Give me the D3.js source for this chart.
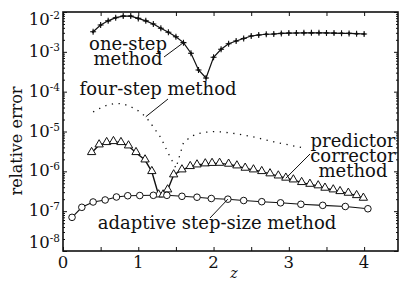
<!DOCTYPE html>
<html>
<head>
<meta charset="utf-8">
<script src="https://cdn.jsdelivr.net/npm/d3@7"></script>
<style>
  body { margin: 0; background: #fff; }
  svg { display: block; }
  text { font-family: "DejaVu Serif", serif; fill: #111; }
</style>
</head>
<body>
<svg id="chart" width="401" height="282"></svg>
<script>
// one-step method (plus markers)
var oneStepZ = [0.4,0.5,0.6,0.7,0.8,0.9,1.0,1.1,1.2,1.3,1.4,1.5,1.6,1.7,1.8,1.9,2.0,2.1,2.2,2.3,2.4,2.5,2.6,2.7,2.8,2.9,3.0,3.1,3.2,3.3,3.4,3.5,3.6,3.7,3.8,3.9,4.0];
var oneStepErr = [3.2e-3,4.7e-3,6.0e-3,7.2e-3,7.9e-3,7.9e-3,6.9e-3,6.0e-3,5.0e-3,3.9e-3,3.1e-3,2.4e-3,1.7e-3,9.2e-4,3.5e-4,2.2e-4,7.3e-4,1.16e-3,1.6e-3,1.87e-3,2.16e-3,2.5e-3,2.65e-3,2.76e-3,2.8e-3,2.9e-3,2.95e-3,2.97e-3,3.0e-3,3.0e-3,3.0e-3,2.98e-3,2.95e-3,2.92e-3,2.9e-3,2.85e-3,2.8e-3];

// four-step method (dotted, no markers)
var fourStepZ = [0.4,0.5,0.6,0.7,0.8,0.9,1.0,1.1,1.2,1.3,1.4,1.5,1.6,1.7,1.8,1.9,2.0,2.1,2.2,2.3,2.4,2.5,2.6,2.7,2.8,2.9,3.0,3.1,3.2];
var fourStepErr = [3.1e-5,3.9e-5,4.7e-5,5.1e-5,4.9e-5,4.2e-5,3.3e-5,2.35e-5,1.3e-5,7e-6,2.8e-6,1.2e-6,5.2e-6,7.5e-6,8.9e-6,9.6e-6,9.9e-6,9.8e-6,9.3e-6,8.8e-6,8.1e-6,7.5e-6,6.8e-6,6.1e-6,5.5e-6,5.0e-6,4.6e-6,4.2e-6,3.9e-6];

// predictor-corrector method (triangles)
var pcZ = [0.38,0.48,0.58,0.67,0.77,0.87,0.97,1.09,1.18,1.27,1.33,1.39,1.47,1.58,1.69,1.78,1.89,1.98,2.08,2.20,2.31,2.42,2.53,2.64,2.75,2.86,2.96,3.06,3.17,3.28,3.39,3.48,3.59,3.68,3.79,3.90,3.99];
var pcErr = [2.94e-6,4.58e-6,5.24e-6,5.55e-6,5.24e-6,4.32e-6,2.94e-6,1.92e-6,9.8e-7,2.54e-7,2.54e-7,3.4e-7,8.1e-7,1.08e-6,1.31e-6,1.44e-6,1.53e-6,1.57e-6,1.58e-6,1.5e-6,1.36e-6,1.19e-6,1.08e-6,9.8e-7,8.6e-7,7.6e-7,6.7e-7,6.05e-7,5.2e-7,4.7e-7,4.3e-7,3.75e-7,3.4e-7,3.08e-7,2.8e-7,2.44e-7,2.1e-7];

// adaptive step-size method (circles)
var adaptZ = [0.12,0.25,0.40,0.56,0.71,0.86,1.02,1.20,1.38,1.58,1.78,1.97,2.19,2.40,2.64,2.89,3.16,3.45,3.75,4.05];
var adaptErr = [7.0e-8,1.25e-7,1.70e-7,1.91e-7,2.27e-7,2.44e-7,2.47e-7,2.5e-7,2.5e-7,2.36e-7,2.24e-7,2.08e-7,2.0e-7,1.85e-7,1.73e-7,1.62e-7,1.49e-7,1.4e-7,1.31e-7,1.15e-7];

var xTickVals = [0,1,2,3,4];
var xMinorVals = [0.5,1.5,2.5,3.5];
var yExponents = [-8,-7,-6,-5,-4,-3,-2];

var svg = d3.select('#chart');
var plotL = 63, plotR = 398, plotT = 12, plotB = 251;

var x = d3.scaleLinear().domain([0, 4.45]).range([plotL, plotR]);
var y = d3.scaleLog().domain([1e-8, 1e-2]).range([plotB, plotT]);

function pts(zs, vs){
    return zs.map(function(z, i){ return [z, vs[i]]; });
}
var line = d3.line().x(function(d){return x(d[0]);}).y(function(d){return y(d[1]);});

// minor log ticks
var majors = yExponents.map(function(e){return Math.pow(10,e);});
var minors = [];
yExponents.slice(0, -1).forEach(function(e){
    for (var k = 2; k <= 9; k++) minors.push(k * Math.pow(10, e));
});

// axes (ticks pointing inward)
svg.append('g').attr('transform','translate(' + plotL + ',0)')
    .call(d3.axisRight(y).tickValues(majors).tickSize(4).tickFormat(''));
svg.append('g').attr('transform','translate(' + plotL + ',0)')
    .call(d3.axisRight(y).tickValues(minors).tickSize(2).tickFormat(''));
svg.append('g').attr('transform','translate(' + plotR + ',0)')
    .call(d3.axisLeft(y).tickValues(majors).tickSize(4).tickFormat(''));
svg.append('g').attr('transform','translate(' + plotR + ',0)')
    .call(d3.axisLeft(y).tickValues(minors).tickSize(2).tickFormat(''));
svg.append('g').attr('transform','translate(0,' + plotB + ')')
    .call(d3.axisTop(x).tickValues(xTickVals.concat(xMinorVals)).tickSize(4).tickFormat(''));
svg.append('g').attr('transform','translate(0,' + plotT + ')')
    .call(d3.axisBottom(x).tickValues(xTickVals.concat(xMinorVals)).tickSize(4).tickFormat(''));
svg.selectAll('.domain').remove();
svg.selectAll('.tick line').attr('stroke','#111').attr('stroke-width',1);

svg.append('rect')
    .attr('x', plotL).attr('y', plotT)
    .attr('width', plotR - plotL).attr('height', plotB - plotT)
    .attr('fill','none').attr('stroke','#111').attr('stroke-width',1.6);

// y tick labels 10^e
svg.selectAll('.ylab').data(yExponents).enter()
    .append('text')
    .attr('class','ylab')
    .attr('x', 60)
    .attr('y', function(e){
        if (e === -2) return y(1e-2) + 13;
        if (e === -8) return y(1e-8) - 3;
        return y(Math.pow(10,e)) + 5;
    })
    .attr('text-anchor','end')
    .style('font-size','16.5px')
    .each(function(e){
        var t = d3.select(this);
        t.append('tspan').text('10');
        t.append('tspan').attr('dy',-6).style('font-size','10.5px').text('-' + (-e));
    });

// x tick labels
svg.selectAll('.xlab').data(xTickVals).enter()
    .append('text')
    .attr('x', function(d){return x(d);})
    .attr('y', 268)
    .attr('text-anchor','middle')
    .style('font-size','16.5px')
    .text(function(d){return d;});

svg.append('text')
    .attr('x', 234).attr('y', 278)
    .attr('text-anchor','middle')
    .style('font-size','14px').style('font-style','italic')
    .text('z');

svg.append('text')
    .attr('transform','translate(22,141) rotate(-90)')
    .attr('text-anchor','middle')
    .style('font-size','16px')
    .text('relative error');

// series
svg.append('path').datum(pts(fourStepZ, fourStepErr))
    .attr('d', line).attr('fill','none')
    .attr('stroke','#111').attr('stroke-width',1.3)
    .attr('stroke-dasharray','1.3,5.5');

svg.append('path').datum(pts(oneStepZ, oneStepErr))
    .attr('d', line).attr('fill','none')
    .attr('stroke','#111').attr('stroke-width',1.2);

svg.append('path').datum(pts(pcZ, pcErr))
    .attr('d', line).attr('fill','none')
    .attr('stroke','#111').attr('stroke-width',1.4);

svg.append('path').datum(pts(adaptZ, adaptErr))
    .attr('d', line).attr('fill','none')
    .attr('stroke','#111').attr('stroke-width',1.1);

// markers
var plus = svg.selectAll('.plus').data(pts(oneStepZ, oneStepErr)).enter()
    .append('g')
    .attr('transform', function(d){return 'translate(' + x(d[0]) + ',' + y(d[1]) + ')';});
plus.append('path').attr('d','M-3,0H3M0,-3V3').attr('stroke','#111').attr('stroke-width',1.1);
plus.append('path').attr('d','M0,-1.8L1.8,0L0,1.8L-1.8,0Z').attr('fill','#111');

svg.selectAll('.tri').data(pts(pcZ, pcErr)).enter()
    .append('path')
    .attr('d', d3.symbol().type(d3.symbolTriangle).size(30))
    .attr('transform', function(d){return 'translate(' + x(d[0]) + ',' + (y(d[1]) - 0.5) + ')';})
    .attr('fill','#fff').attr('stroke','#111').attr('stroke-width',1);

svg.selectAll('.circ').data(pts(adaptZ, adaptErr)).enter()
    .append('circle')
    .attr('cx', function(d){return x(d[0]);})
    .attr('cy', function(d){return y(d[1]);})
    .attr('r', 3.3)
    .attr('fill','#fff').attr('stroke','#111').attr('stroke-width',1);

// annotations
function label(lines, cx, baseline, step){
    lines.forEach(function(s, i){
        svg.append('text')
            .attr('x', cx).attr('y', baseline + i * step)
            .attr('text-anchor','middle')
            .style('font-size','18px')
            .text(s);
    });
}
function leader(x0, y0, z, v){
    svg.append('line')
        .attr('x1', x0).attr('y1', y0)
        .attr('x2', x(z)).attr('y2', y(v))
        .attr('stroke','#111').attr('stroke-width',1);
}

label(['one-step','method'], 128, 50, 15);
leader(164, 57, oneStepZ[12], oneStepErr[12]);

label(['four-step method'], 158, 95, 15);
leader(168, 99, fourStepZ[7], fourStepErr[7]);

label(['predictor','corrector','method'], 353, 147, 15);
leader(310, 154, pcZ[26], pcErr[26]);

label(['adaptive step-size method'], 217, 229, 15);
leader(210, 218, adaptZ[12], adaptErr[12]);
</script>
</body>
</html>
